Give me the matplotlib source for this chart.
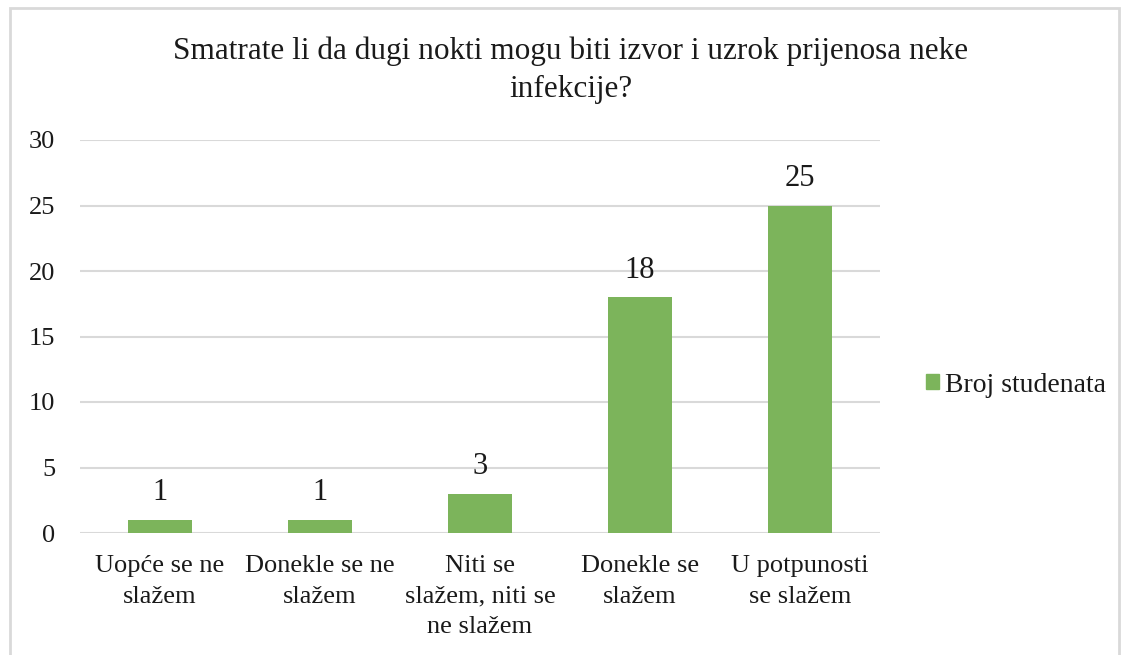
import matplotlib
matplotlib.use("Agg")
import matplotlib.pyplot as plt
import matplotlib.patches as mpatches

plt.rcParams['font.family'] = ['Liberation Serif', 'DejaVu Serif']

# data
categories = ['Uopće se ne\nslažem', 'Donekle se ne\nslažem', 'Niti se\nslažem, niti se\nne slažem',
              'Donekle se\nslažem', 'U potpunosti\nse slažem']
values = [1, 1, 3, 18, 25]
series_name = 'Broj studenata'
title = 'Smatrate li da dugi nokti mogu biti izvor i uzrok prijenosa neke\ninfekcije?'
yticks = [0, 5, 10, 15, 20, 25, 30]

bar_color = '#7CB45B'
grid_color = '#D9D9D9'
text_color = '#1a1a1a'

fig = plt.figure(figsize=(11.23, 6.55), dpi=100)
ax = fig.add_axes([80 / 1123, 122 / 655, 800 / 1123, 393 / 655])

x = range(len(values))
bars = ax.bar(x, values, width=0.4, color=bar_color, label=series_name, zorder=3)
for rect, v in zip(bars, values):
    ax.annotate(str(v), (rect.get_x() + rect.get_width() / 2, v), xytext=(0, 9),
                textcoords='offset points', ha='center', va='bottom',
                fontsize=22, color=text_color)

ax.set_xlim(-0.5, len(values) - 0.5)
ax.set_ylim(0, 30)
ax.set_yticks(yticks)
ax.set_xticks(list(x))
ax.set_xticklabels(categories, fontsize=19, color=text_color, linespacing=1.49)
ax.tick_params(axis='y', labelsize=19, labelcolor=text_color, length=0, pad=18)
ax.tick_params(axis='x', length=0, pad=16)
ax.grid(axis='y', color=grid_color, linewidth=1.5, zorder=0)
for s in ax.spines.values():
    s.set_visible(False)

fig.text(571 / 1123, 1 - 70 / 655, title, ha='center', va='center', fontsize=22.5,
         color=text_color, linespacing=1.42)

fig.legend(handles=[mpatches.Patch(color=bar_color, label=series_name)],
           loc='center left', bbox_to_anchor=(901 / 1123, 1 - 385 / 655),
           frameon=False, fontsize=20, handlelength=0.45, handleheight=0.45,
           handletextpad=0.25, labelcolor=text_color)

border = mpatches.Rectangle((10 / 1123, -0.05), 1109 / 1123, 1.05 - 8 / 655,
                            transform=fig.transFigure, fill=False,
                            edgecolor=grid_color, linewidth=2)
fig.patches.append(border)

fig.savefig('out.png', dpi=100)
